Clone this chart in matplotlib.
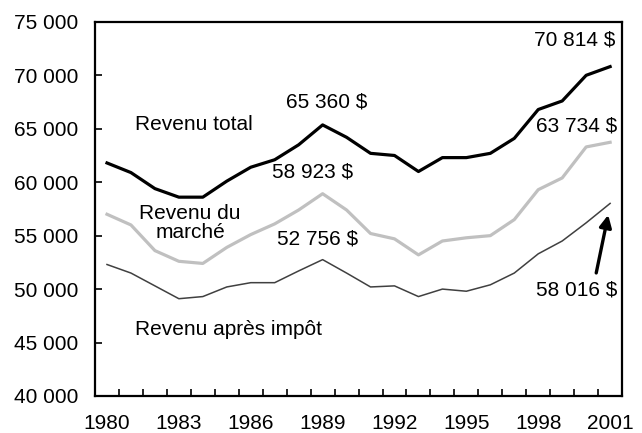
import numpy as np
import matplotlib.pyplot as plt

plt.rcParams['font.family'] = ['Liberation Sans', 'DejaVu Sans']

years = list(range(1980, 2002))
revenu_total = [61800, 60900, 59400, 58600, 58600, 60100, 61400, 62100, 63500, 65360, 64200,
                62700, 62500, 61000, 62300, 62300, 62700, 64100, 66800, 67600, 70000, 70814]
revenu_marche = [57000, 56000, 53600, 52600, 52400, 53900, 55100, 56100, 57400, 58923, 57400,
                 55200, 54700, 53200, 54500, 54800, 55000, 56500, 59300, 60400, 63300, 63734]
revenu_apres_impot = [52300, 51500, 50300, 49100, 49300, 50200, 50600, 50600, 51700, 52756, 51500,
                      50200, 50300, 49300, 50000, 49800, 50400, 51500, 53300, 54500, 56200, 58016]
year_labels = [1980, 1983, 1986, 1989, 1992, 1995, 1998, 2001]
y_ticks = [40000, 45000, 50000, 55000, 60000, 65000, 70000, 75000]

fig = plt.figure(figsize=(6.42, 4.33), dpi=100)
ax = fig.add_axes([0.148, 0.0855, 0.821, 0.864])

ax.plot(years, revenu_marche, color='#c0c0c0', lw=2.3)
ax.plot(years, revenu_apres_impot, color='#404040', lw=1.1)
ax.plot(years, revenu_total, color='black', lw=2.3)

ax.set_xlim(1979.5, 2001.5)
ax.set_ylim(40000, 75000)

fs = 15
ax.set_yticks(y_ticks)
ax.set_yticklabels([f"{v:,}".replace(',', ' ') for v in y_ticks])
ax.set_xticks(year_labels)
ax.set_xticklabels([str(y) for y in year_labels])
ax.set_xticks(np.arange(1979.5, 2002, 1), minor=True)
ax.tick_params(axis='x', which='major', length=0, pad=13, labelsize=fs)
ax.tick_params(axis='x', which='minor', direction='in', length=5, width=1.2)
ax.tick_params(axis='y', direction='in', length=5, width=1.2, labelsize=fs, pad=12)
for s in ax.spines.values():
    s.set_linewidth(1.6)

ax.text(1981.17, 65360, "Revenu total", fontsize=fs, ha='left', va='center')
ax.text(1989.15, 67514, "65 360 $", fontsize=fs, ha='center', va='center')
ax.text(1988.6, 60963, "58 923 $", fontsize=fs, ha='center', va='center')
ax.text(1983.47, 56190, "Revenu du\nmarché", fontsize=fs, ha='center', va='center',
        linespacing=1.0)
ax.text(1988.77, 54693, "52 756 $", fontsize=fs, ha='center', va='center')
ax.text(1981.17, 46177, "Revenu après impôt", fontsize=fs, ha='left', va='center')
ax.text(2001.2, 73316, "70 814 $", fontsize=fs, ha='right', va='center')
ax.text(2001.3, 65267, "63 734 $", fontsize=fs, ha='right', va='center')
ax.text(2001.3, 49920, "58 016 $", fontsize=fs, ha='right', va='center')
ax.annotate("", xy=(2000.92, 56939), xytext=(2000.42, 51511),
            arrowprops=dict(arrowstyle='-|>', color='black', lw=2.4, mutation_scale=18,
                            shrinkA=0, shrinkB=0))

fig.savefig("out.png", dpi=100)
